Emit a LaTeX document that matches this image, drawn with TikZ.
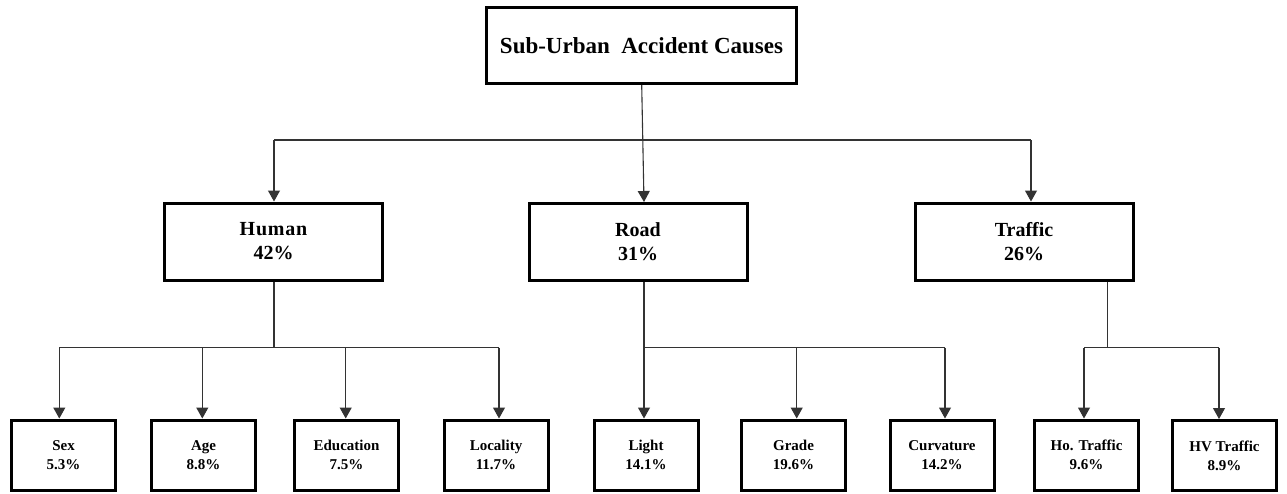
\documentclass[tikz,border=0pt]{standalone}
\usepackage{fontspec}
\setmainfont{Liberation Serif}
\newfontfamily\spacedserif[LetterSpace=4]{Liberation Serif}
\usetikzlibrary{arrows.meta}
\begin{document}
\begin{tikzpicture}[x=1pt,y=-1pt,
  box/.style={draw=black,line width=3pt,fill=white,align=center,inner sep=0pt},
  topbox/.style={box,minimum width=310pt,minimum height=76pt,font=\fontsize{23}{27}\selectfont\bfseries},
  midbox/.style={box,minimum width=218pt,minimum height=77pt,font=\fontsize{20}{24}\selectfont\bfseries},
  leafbox/.style={box,minimum width=104pt,minimum height=70pt,font=\fontsize{15}{19}\selectfont\bfseries},
  conn/.style={draw=black!80,line width=1.1pt},
  arr/.style={conn,-{Triangle[width=12pt,length=11pt]}}]
\useasboundingbox (0,0) rectangle (1287,493);
% nodes
\node[topbox] (top) at (641.5,45.5) {Sub-Urban~~Accident Causes};
\node[midbox] (human) at (273.5,241.5) {{\spacedserif\bfseries Human}\\42\%};
\node[midbox] (road) at (638,242) {Road\\31\%};
\node[midbox] (traffic) at (1024,241.5) {Traffic\\26\%};
\node[leafbox] (sex) at (63.5,455) {Sex\\5.3\%};
\node[leafbox] (age) at (203.5,455) {Age\\8.8\%};
\node[leafbox] (edu) at (346.5,455) {Education\\7.5\%};
\node[leafbox] (loc) at (496,455) {Locality\\11.7\%};
\node[leafbox] (light) at (646,455) {Light\\14.1\%};
\node[leafbox] (grade) at (793.5,455) {Grade\\19.6\%};
\node[leafbox] (curv) at (942,455) {Curvature\\14.2\%};
\node[leafbox] (ho) at (1086.5,455) {Ho. Traffic\\9.6\%};
\node[leafbox] (hv) at (1224.5,455.5) {HV Traffic\\8.9\%};
% junction coordinates
\coordinate (t1) at (641.7,85);
\coordinate (hL) at (274,140);
\coordinate (hR) at (1031,140);
\coordinate (hd) at (274,347.5);
\coordinate (hs) at (59.3,347.5);
\coordinate (ha) at (202.3,347.5);
\coordinate (he) at (345.7,347.5);
\coordinate (hl) at (499,347.5);
\coordinate (rd) at (644,347.5);
\coordinate (rg) at (796.7,347.5);
\coordinate (rc) at (945,347.5);
\coordinate (td) at (1107.7,347.5);
\coordinate (th) at (1084,347.5);
\coordinate (tv) at (1219,347.5);
% level 1
\draw[conn] (hL) -- (hR);
\draw[arr] (t1 |- top.south) -- (road.north -| 644,0);
\draw[arr] (hL) -- (human.north -| hL);
\draw[arr] (hR) -- (traffic.north -| hR);
% human
\draw[conn] (human.south -| hd) -- (hd);
\draw[conn] (hs) -- (hl);
\draw[arr] (hs) -- (sex.north -| hs);
\draw[arr] (ha) -- (age.north -| ha);
\draw[arr] (he) -- (edu.north -| he);
\draw[arr] (hl) -- (loc.north -| hl);
% road
\draw[arr] (road.south -| rd) -- (light.north -| rd);
\draw[conn] (rd) -- (rc);
\draw[arr] (rg) -- (grade.north -| rg);
\draw[arr] (rc) -- (curv.north -| rc);
% traffic
\draw[conn] (traffic.south -| td) -- (td);
\draw[conn] (th) -- (tv);
\draw[arr] (th) -- (ho.north -| th);
\draw[arr] (tv) -- (hv.north -| tv);
\end{tikzpicture}
\end{document}
